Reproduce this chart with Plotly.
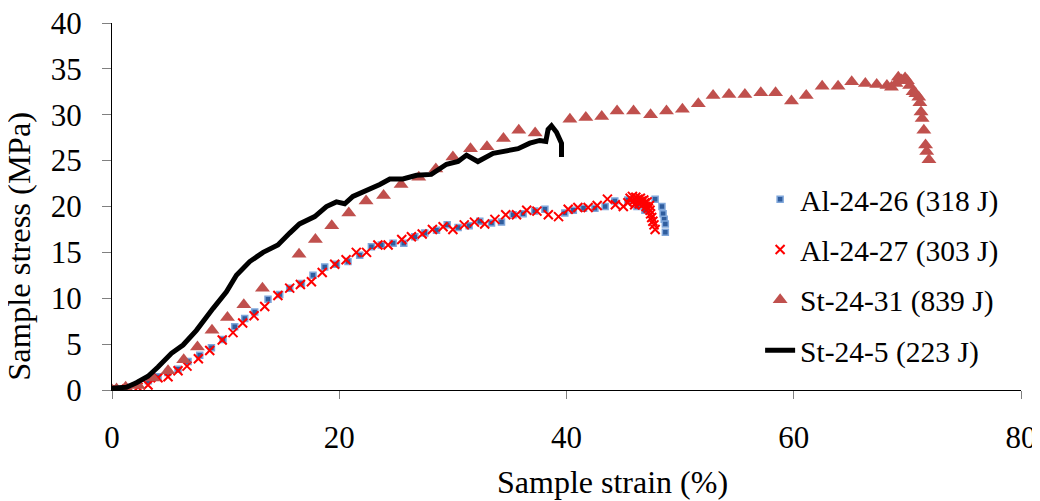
import plotly.graph_objects as go

# Al-24-26 (318 J) - blue squares
al26_x = [0, 0.6, 1.4, 2.3, 3.2, 4.05, 4.9, 5.81, 6.69, 7.72, 8.75, 9.77, 10.8, 11.68, 12.56, 13.73,
          14.76, 15.64, 16.67, 17.69, 18.72, 19.75, 20.77, 21.8, 22.83, 23.7, 24.74, 25.68, 26.65,
          27.53, 28.56, 29.5, 30.46, 31.43, 32.37, 33.4, 34.28, 35.3, 36.18, 37.2, 38.1, 39.85, 40.6,
          41.5, 42.5, 43.4, 44.25, 45.4, 46.2, 46.9, 47.8, 48.4, 48.5, 48.6, 48.7, 48.7]
al26_y = [0, 0.1, 0.3, 0.6, 1.0, 1.45, 1.9, 2.25, 3.1, 3.8, 4.6, 5.5, 6.9, 7.8, 8.5, 9.9,
          10.4, 11.1, 11.6, 12.5, 13.4, 13.7, 14.0, 14.7, 15.6, 15.8, 16.0, 16.0, 16.7,
          17.1, 17.4, 18.0, 17.7, 17.9, 18.4, 18.2, 18.3, 19.1, 19.2, 19.5, 19.7, 19.3, 19.6,
          19.8, 19.8, 20.0, 20.6, 20.7, 20.0, 19.6, 20.8, 20.0, 19.2, 18.6, 18.1, 17.2]

# Al-24-27 (303 J) - red crosses
al27_x = [0, 0.5, 1.3, 2.29, 3.17, 4.05, 4.93, 5.81, 6.6, 7.6, 8.6, 9.7, 10.65, 11.5, 12.5, 13.44,
          14.6, 15.64, 16.58, 17.55, 18.5, 19.6, 20.6, 21.5, 22.4, 23.4, 24.3, 25.5, 26.35, 27.3,
          28.2, 29.14, 30.0, 31.0, 31.9, 32.8, 33.7, 34.65, 35.6, 36.5, 37.4, 38.4, 39.3, 40.15,
          41.0, 41.9, 42.7, 43.6, 44.3, 45.0,
          45.4, 45.6, 45.8, 45.9, 46.0, 46.1, 46.2, 46.3, 46.4, 46.5, 46.6, 46.7, 46.8, 46.9,
          47.0, 47.1, 47.2, 47.3, 47.35, 47.4, 47.5, 47.6, 47.7, 47.8]
al27_y = [0, 0, 0.1, 0.29, 0.54, 1.34, 1.45, 2.1, 2.6, 3.4, 4.3, 5.45, 6.25, 7.3, 8.1, 9.1,
          10.3, 11.1, 11.5, 11.8, 12.8, 13.7, 14.2, 15.0, 15.0, 15.8, 15.8, 16.4, 16.7, 17.0,
          17.5, 17.8, 17.5, 18.0, 18.3, 18.1, 18.6, 19.1, 19.1, 19.6, 19.5, 19.1, 18.9, 19.7,
          19.9, 19.9, 20.1, 20.8, 20.2, 20.0,
          20.4, 20.9, 21.1, 20.6, 20.2, 21.0, 20.5, 20.8, 20.3, 20.9, 20.6, 20.2, 20.7, 20.4,
          20.0, 20.5, 19.8, 20.1, 19.6, 19.2, 18.8, 18.4, 18.0, 17.5]

# St-24-31 (839 J) - triangles
st31_x = [0, 0.4, 1.2, 2.3, 3.6, 4.93, 6.31, 7.52, 8.8, 10.16, 11.6, 13.24, 16.46, 17.9, 19.34,
          20.84, 22.36, 23.9, 25.44, 27.0, 28.5, 30.0, 31.55, 33.0, 34.45, 35.8, 37.24, 40.3,
          41.7, 43.1, 44.45, 45.9, 47.4, 48.8, 50.2, 51.6, 52.9, 54.3, 55.7, 57.1, 58.4, 59.8,
          61.1, 62.5, 63.9, 65.1, 66.3, 67.3, 68.2, 68.6, 69.0, 69.2, 69.5, 69.8, 70.0, 70.2,
          70.5, 70.75, 71.0, 71.1, 71.2, 71.3, 71.45, 71.6, 71.7, 71.9]
st31_y = [0, 0.1, 0.3, 0.5, 1.3, 2.1, 3.3, 4.7, 6.5, 7.9, 9.3, 11.1, 14.8, 16.4, 17.9,
          19.3, 20.6, 21.2, 22.4, 23.2, 24.1, 25.4, 26.3, 26.5, 27.4, 28.3, 28.0, 29.5,
          29.7, 29.8, 30.4, 30.4, 30.0, 30.4, 30.6, 31.2, 32.1, 32.2, 32.2, 32.4, 32.4, 31.5,
          32.1, 33.1, 33.1, 33.6, 33.4, 33.3, 33.2, 33.0, 33.4, 34.1, 33.8, 34.0, 33.7, 33.2,
          32.5, 32.3, 31.9, 31.3, 30.3, 29.6, 28.3, 26.7, 26.0, 25.1]

# St-24-5 (223 J) - black line
st5_x = [0, 0.5, 1.27, 2.15, 3.17, 4.05, 5.23, 6.25, 7.43, 8.9, 10.07, 10.95, 12.12, 13.3, 14.6,
         15.64, 16.5, 17.84, 18.87, 19.75, 20.48, 21.2, 22.4, 23.57, 24.45, 25.6, 26.8, 28.1,
         29.44, 30.46, 31.2, 32.2, 33.54, 34.57, 35.74, 36.77, 37.65, 38.18, 38.38, 38.68,
         39.12, 39.56, 39.56]
st5_y = [0.2, 0.25, 0.3, 0.8, 1.5, 2.5, 4.0, 4.9, 6.5, 8.9, 10.7, 12.5, 14.0, 15.0, 15.8,
         17.1, 18.1, 18.9, 20.0, 20.5, 20.3, 21.1, 21.7, 22.4, 23.0, 23.0, 23.4, 23.5,
         24.6, 24.9, 25.6, 24.9, 25.8, 26.0, 26.3, 26.9, 27.2, 27.1, 28.4, 28.8,
         28.1, 26.9, 25.4]

x_ticks = [0, 20, 40, 60, 80]
y_ticks = [0, 5, 10, 15, 20, 25, 30, 35, 40]

FONT = "Liberation Serif"

fig = go.Figure()
fig.add_trace(go.Scatter(
    x=al26_x, y=al26_y, mode="markers", name="Al-24-26 (318 J)", legendgroup="a",
    marker=dict(symbol="square", size=6, color="#2F5D9E", line=dict(color="#7FA6DA", width=1.5))))
fig.add_trace(go.Scatter(
    x=al27_x, y=al27_y, mode="markers", name="Al-24-27 (303 J)", legendgroup="b",
    marker=dict(symbol="x-thin", size=9, color="#FF0000", line=dict(color="#FF0000", width=2))))
fig.add_trace(go.Scatter(
    x=st31_x, y=st31_y, mode="markers", name="St-24-31 (839 J)", legendgroup="c",
    marker=dict(symbol="triangle-up", size=13, color="#C0504D", line=dict(width=0))))
fig.add_trace(go.Scatter(
    x=st5_x, y=st5_y, mode="lines", name="St-24-5 (223 J)", legendgroup="d",
    line=dict(color="#000000", width=5)))

fig.update_layout(
    width=1032, height=493,
    margin=dict(l=104, r=19, t=15, b=111, autoexpand=False),
    paper_bgcolor="white", plot_bgcolor="white",
    font=dict(family=FONT, size=30, color="black"),
    showlegend=True,
    legend=dict(x=0.713, y=0.59, xanchor="left", yanchor="top", bgcolor="rgba(0,0,0,0)",
                font=dict(family=FONT, size=29.5, color="black"),
                tracegroupgap=9, itemsizing="trace"),
    annotations=[
        dict(text="Sample strain (%)", xref="paper", yref="paper", x=0.551, y=0,
             xanchor="center", yanchor="top", yshift=-72, showarrow=False,
             font=dict(family=FONT, size=32, color="black")),
        dict(text="Sample stress (MPa)", xref="paper", yref="paper", x=0, y=0.39,
             xanchor="right", yanchor="middle", xshift=-73, textangle=-90, showarrow=False,
             font=dict(family=FONT, size=32.5, color="black")),
    ],
)
fig.update_xaxes(range=[0, 80], tickvals=x_ticks, showgrid=False, zeroline=False,
                 showline=True, linecolor="black", linewidth=1, automargin=False,
                 ticks="outside", ticklen=8, tickcolor="#808080", tickwidth=1,
                 ticklabeloverflow="allow",
                 tickfont=dict(family=FONT, size=31, color="black"), ticklabelstandoff=12)
fig.update_yaxes(range=[0, 40], tickvals=y_ticks, showgrid=False, zeroline=False,
                 showline=True, linecolor="black", linewidth=1, automargin=False,
                 ticks="outside", ticklen=9, tickcolor="#808080", tickwidth=1,
                 ticklabeloverflow="allow",
                 tickfont=dict(family=FONT, size=31, color="black"), ticklabelstandoff=14)

fig.write_html("out.html")
